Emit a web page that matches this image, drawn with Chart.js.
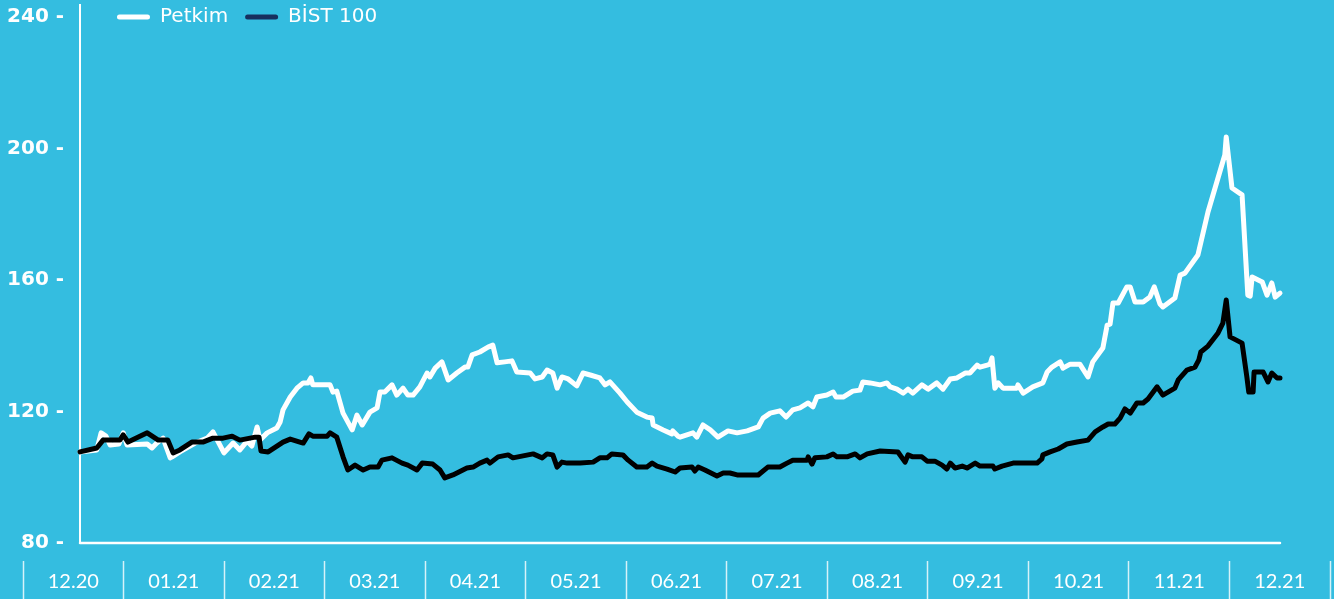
<!DOCTYPE html>
<html>
<head>
<meta charset="utf-8">
<script src="https://cdn.jsdelivr.net/npm/chart.js@4.4.0/dist/chart.umd.min.js"></script>
<style>
  html, body { margin: 0; padding: 0; background: #34bde0; }
  #wrap { width: 1334px; height: 599px; position: relative; }
</style>
</head>
<body>
<div id="wrap"><canvas id="chart"></canvas></div>
<script>
// Month band under the chart
const months = ['12.20', '01.21', '02.21', '03.21', '04.21', '05.21', '06.21',
  '07.21', '08.21', '09.21', '10.21', '11.21', '12.21'];
const yTicks = [80, 120, 160, 200, 240];

// Petkim, trading day index -> index value
const petkimDay = [
  0, 3.5, 4.4, 5.4, 6.3, 8.1, 9.0, 9.8, 14.0, 15.0,
  16.0, 17.3, 18.8, 19.2, 20.8, 24.0, 26.5, 27.7, 30.0, 31.9,
  33.3, 34.8, 35.8, 36.9, 37.5, 39.0, 41.0, 41.7, 42.3, 43.8,
  45.2, 46.5, 47.5, 48.1, 48.5, 52.1, 52.7, 53.5, 54.8, 56.7,
  57.7, 58.8, 60.4, 61.9, 62.5, 63.5, 65.0, 66.0, 67.3, 68.3,
  69.4, 70.8, 72.3, 72.9, 74.0, 75.4, 76.7, 78.5, 80.2, 80.8,
  81.7, 83.3, 85.0, 86.0, 86.9, 88.5, 90.0, 91.0, 93.8, 94.8,
  96.3, 97.3, 98.5, 99.4, 100.4, 101.7, 103.5, 104.8, 106.3, 108.3,
  109.4, 110.4, 112.5, 114.0, 116.0, 118.1, 119.2, 119.4, 121.5, 123.3,
  123.5, 124.6, 125.0, 127.7, 128.5, 129.8, 131.3, 132.9, 135.0, 136.9,
  139.0, 141.3, 142.3, 143.8, 145.8, 147.1, 148.5, 150.0, 151.7, 152.7,
  153.5, 155.6, 156.9, 157.5, 159.0, 161.0, 162.5, 163.1, 164.6, 166.7,
  168.1, 168.8, 170.2, 171.5, 172.5, 173.5, 175.4, 176.7, 178.5, 179.8,
  181.3, 182.7, 184.4, 185.4, 186.9, 187.5, 189.0, 189.6, 190.0, 190.6,
  191.3, 192.3, 195.2, 195.4, 196.5, 198.5, 200.6, 201.5, 202.5, 204.2,
  204.8, 206.3, 208.3, 210.0, 211.0, 213.1, 214.0, 214.6, 215.2, 216.3,
  218.1, 218.8, 219.8, 221.5, 222.9, 223.8, 225.0, 225.6, 228.1, 229.2,
  230.2, 232.9, 235.0, 238.5, 238.8, 240.0, 242.1, 243.3, 243.8, 244.2,
  246.3, 247.3, 248.3, 249.0, 250.0
];
const petkimValues = [
  107.7, 108.3, 113.5, 112.5, 109.8, 110.1, 113.5, 109.8, 110.1, 108.9,
  110.4, 111.9, 105.9, 106.2, 107.7, 110.4, 111.9, 113.8, 107.4, 110.4,
  108.3, 111.0, 109.5, 115.3, 111.3, 113.5, 115.0, 116.8, 120.5, 124.4,
  127.1, 128.7, 128.7, 130.2, 128.1, 128.1, 125.9, 126.2, 119.5, 114.4,
  118.9, 115.9, 119.8, 121.1, 125.9, 125.9, 128.1, 125.0, 127.1, 125.0,
  125.0, 127.5, 131.7, 130.5, 133.2, 135.1, 129.6, 131.7, 133.5, 133.5,
  137.2, 138.1, 139.6, 140.2, 134.8, 135.1, 135.4, 132.0, 131.7, 129.9,
  130.5, 132.6, 131.7, 127.1, 130.5, 129.9, 127.8, 131.7, 131.1, 130.2,
  128.1, 129.0, 125.6, 122.9, 119.8, 118.3, 118.0, 115.9, 114.4, 113.2,
  114.1, 112.5, 112.2, 113.5, 112.2, 115.9, 114.4, 112.2, 114.1, 113.5,
  114.1, 115.3, 118.0, 119.5, 120.2, 118.3, 120.5, 121.1, 122.6, 121.4,
  124.4, 125.0, 125.9, 124.4, 124.4, 126.2, 126.5, 129.0, 128.7, 128.1,
  128.7, 127.5, 126.8, 125.6, 126.8, 125.6, 128.1, 126.8, 128.7, 126.8,
  129.9, 130.2, 131.7, 131.7, 134.1, 133.5, 134.1, 134.4, 136.3, 127.1,
  128.7, 127.1, 127.1, 128.1, 125.6, 127.5, 128.7, 132.0, 133.5, 135.1,
  133.2, 134.4, 134.4, 130.5, 135.1, 139.3, 146.3, 146.6, 153.0, 153.0,
  157.9, 157.9, 153.3, 153.3, 154.8, 157.9, 152.7, 151.8, 154.5, 161.5,
  162.1, 167.6, 180.7, 198.0, 203.5, 188.0, 185.9, 155.4, 155.1, 160.9,
  159.4, 155.4, 159.1, 154.8, 156.0
];

// BIST 100
const bistDay = [
  0, 3.5, 4.8, 8.3, 9.0, 10.0, 14.0, 16.3, 18.3, 19.4,
  20.8, 23.3, 25.6, 27.7, 29.8, 31.7, 33.3, 36.5, 37.3, 37.7,
  39.2, 42.3, 43.8, 45.8, 46.5, 47.7, 48.5, 51.5, 52.1, 53.5,
  54.8, 55.8, 57.3, 59.0, 60.4, 62.1, 62.9, 65.0, 67.1, 68.3,
  70.2, 71.3, 73.5, 75.0, 76.0, 77.7, 80.6, 81.9, 83.3, 84.8,
  85.4, 87.1, 89.2, 90.2, 92.3, 94.4, 96.3, 97.3, 98.5, 99.4,
  100.4, 101.5, 104.2, 106.9, 108.3, 109.8, 110.8, 113.1, 114.2, 116.0,
  118.1, 119.2, 120.2, 122.3, 124.0, 125.0, 127.5, 128.1, 128.8, 130.2,
  132.7, 134.0, 135.4, 136.9, 141.3, 143.3, 145.8, 147.3, 148.5, 151.5,
  151.7, 152.5, 153.1, 155.6, 156.9, 157.7, 159.8, 161.5, 162.5, 164.0,
  166.7, 170.4, 171.9, 172.5, 173.5, 175.4, 176.5, 178.1, 179.6, 180.6,
  181.3, 182.3, 183.8, 184.8, 186.5, 187.5, 190.2, 190.6, 192.1, 194.4,
  199.4, 200.4, 200.6, 202.1, 203.8, 205.6, 207.7, 210.0, 211.5, 213.1,
  214.2, 215.6, 216.7, 217.7, 218.8, 220.2, 221.5, 222.5, 224.4, 225.6,
  228.1, 228.8, 230.6, 232.3, 233.1, 233.5, 235.0, 237.1, 238.1, 238.8,
  239.6, 242.1, 243.1, 243.5, 244.4, 244.6, 246.5, 247.5, 248.3, 249.4,
  250.0
];
const bistValues = [
  107.7, 108.9, 111.3, 111.3, 112.9, 110.7, 113.5, 111.3, 111.3, 107.4,
  108.3, 110.7, 110.7, 111.9, 111.9, 112.5, 111.3, 112.2, 112.2, 108.0,
  107.7, 110.7, 111.6, 110.7, 110.4, 113.2, 112.5, 112.5, 113.5, 112.2,
  106.2, 102.2, 103.7, 102.2, 103.1, 103.1, 105.2, 105.9, 104.3, 103.7,
  102.2, 104.3, 104.0, 102.2, 99.8, 100.7, 102.8, 103.1, 104.3, 105.2,
  104.3, 106.2, 106.8, 105.9, 106.5, 107.1, 105.9, 107.1, 106.8, 103.1,
  104.6, 104.3, 104.3, 104.6, 105.9, 105.9, 107.1, 106.8, 105.2, 103.1,
  103.1, 104.3, 103.4, 102.5, 101.6, 102.8, 103.1, 101.9, 103.1, 102.2,
  100.4, 101.3, 101.3, 100.7, 100.7, 103.1, 103.1, 104.3, 105.2, 105.2,
  106.2, 104.0, 105.9, 106.2, 107.1, 106.2, 106.2, 107.1, 105.9, 107.1,
  108.0, 107.7, 104.6, 106.8, 106.2, 106.2, 104.9, 104.9, 103.7, 102.5,
  104.3, 102.8, 103.4, 102.8, 104.3, 103.4, 103.4, 102.5, 103.4, 104.3,
  104.3, 105.6, 106.8, 107.7, 108.6, 110.1, 110.7, 111.3, 113.8, 115.3,
  116.2, 116.2, 118.0, 120.8, 119.5, 122.6, 122.6, 123.8, 127.5, 125.0,
  127.1, 129.6, 132.6, 133.5, 135.7, 138.1, 139.9, 143.9, 146.9, 153.9,
  142.7, 140.8, 130.5, 125.9, 125.9, 132.0, 132.0, 129.0, 131.7, 130.2,
  130.2
];

const legendColors = ['#ffffff', '#17305e'];

function toPoints(xs, ys) {
  return xs.map((x, i) => ({ x: x, y: ys[i] }));
}

const firstDay = petkimDay[0];
const lastDay = petkimDay[petkimDay.length - 1];

// Move the legend next to the y axis, over the plot top
const legendSpot = {
  id: 'legendSpot',
  afterLayout(chart) {
    const legend = chart.legend;
    legend.left = chart.scales.x.getPixelForValue(firstDay) + 20;
    legend.top = -10;
    legend.height = 50;
    legend.bottom = legend.top + legend.height;
  }
};

new Chart(document.getElementById('chart'), {
  type: 'line',
  data: {
    datasets: [
      {
        label: 'Petkim',
        data: toPoints(petkimDay, petkimValues),
        borderColor: '#ffffff',
        borderWidth: 5,
        order: 2
      },
      {
        label: 'BİST 100',
        data: toPoints(bistDay, bistValues),
        borderColor: '#000000',
        borderWidth: 5,
        order: 1
      },
      {
        label: 'base',
        data: [{ x: firstDay, y: yTicks[0] }, { x: lastDay, y: yTicks[0] }],
        borderColor: '#ffffff',
        borderWidth: 2.5,
        clip: false,
        order: 3
      }
    ]
  },
  options: {
    responsive: true,
    maintainAspectRatio: false,
    animation: false,
    devicePixelRatio: 1,
    events: [],
    layout: { autoPadding: false, padding: { left: 23, right: 4, top: 4, bottom: 0 } },
    elements: {
      point: { radius: 0 },
      line: { tension: 0, borderJoinStyle: 'round', borderCapStyle: 'round' }
    },
    scales: {
      x: {
        type: 'linear',
        display: false,
        min: firstDay - 11.875,
        max: lastDay + 10.42
      },
      m: {
        type: 'category',
        labels: months,
        position: 'bottom',
        offset: true,
        afterFit: (scale) => { scale.height = 56; },
        border: { display: false },
        grid: {
          offset: true,
          drawOnChartArea: false,
          drawTicks: true,
          tickLength: 56,
          tickColor: 'rgba(255,255,255,0.8)',
          tickWidth: 1.5,
          tickBorderDash: [38, 18],
          tickBorderDashOffset: 38
        },
        ticks: {
          color: '#ffffff',
          font: { family: 'Lato', size: 20 },
          padding: -29,
          autoSkip: false,
          maxRotation: 0
        }
      },
      y: {
        type: 'linear',
        position: { x: firstDay },
        min: 80,
        max: 243.65,
        afterBuildTicks: (scale) => { scale.ticks = yTicks.map(v => ({ value: v })); },
        afterFit: (scale) => { scale.paddingTop = 0; scale.paddingBottom = 0; },
        grid: { display: false, drawTicks: false },
        border: { display: true, color: '#ffffff', width: 2 },
        ticks: {
          color: '#ffffff',
          font: { family: 'DejaVu Sans', weight: 'bold', size: 20 },
          // labels sit right on the axis line, the trailing space keeps a gap
          callback: (v) => v + ' -\u2007\u200A'
        }
      }
    },
    plugins: {
      tooltip: { enabled: false },
      legend: {
        position: 'top',
        align: 'start',
        maxHeight: 1,
        labels: {
          color: '#ffffff',
          font: { family: 'DejaVu Sans', size: 20 },
          boxWidth: 33,
          boxHeight: 5,
          padding: 17,
          useBorderRadius: true,
          borderRadius: 2.5,
          generateLabels: (chart) => chart.data.datasets.slice(0, 2).map((ds, i) => ({
            text: ds.label,
            fillStyle: legendColors[i],
            strokeStyle: legendColors[i],
            lineWidth: 0,
            borderRadius: 2.5,
            fontColor: '#ffffff',
            hidden: false,
            datasetIndex: i
          }))
        }
      }
    }
  },
  plugins: [legendSpot]
});
</script>
</body>
</html>
